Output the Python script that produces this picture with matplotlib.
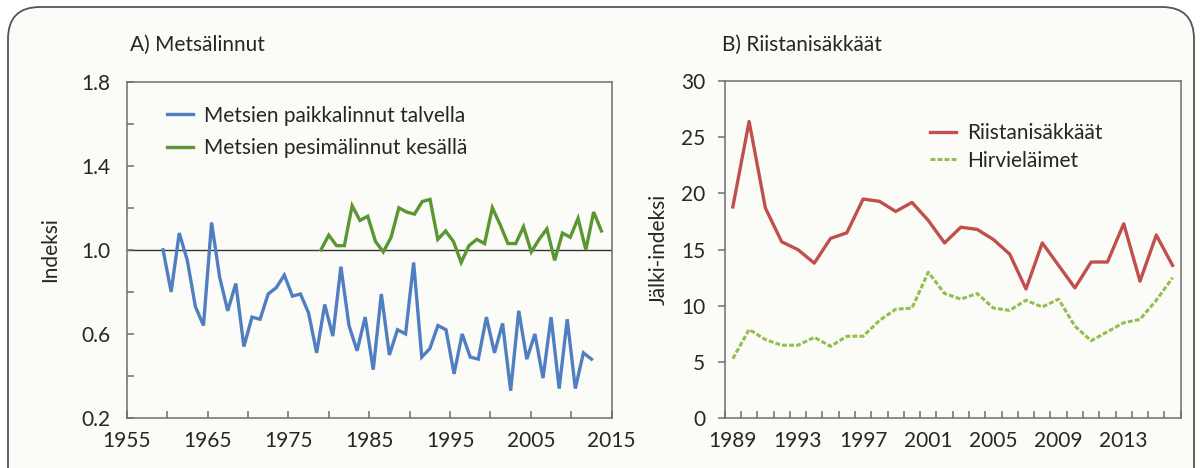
import numpy as np
import matplotlib
matplotlib.use("Agg")
import matplotlib.pyplot as plt
from matplotlib.patches import FancyBboxPatch
from matplotlib.transforms import IdentityTransform

plt.rcParams['font.family'] = ['Lato', 'DejaVu Sans']

# A) Metsälinnut
winter_years = list(range(1959, 2013))
winter_index = [1.00, 0.80, 1.08, 0.95, 0.73, 0.64, 1.13, 0.87, 0.71, 0.84,
                0.54, 0.68, 0.67, 0.79, 0.82, 0.88, 0.78, 0.79, 0.70, 0.51,
                0.74, 0.59, 0.92, 0.64, 0.52, 0.68, 0.43, 0.79, 0.50, 0.62,
                0.60, 0.94, 0.49, 0.53, 0.64, 0.62, 0.41, 0.60, 0.49, 0.48,
                0.68, 0.51, 0.65, 0.33, 0.71, 0.48, 0.60, 0.39, 0.68, 0.34,
                0.67, 0.34, 0.51, 0.48]
breeding_years = list(range(1979, 2016))
breeding_index = [1.00, 1.07, 1.02, 1.02, 1.21, 1.14, 1.16, 1.04, 0.99, 1.06,
                  1.20, 1.18, 1.17, 1.23, 1.24, 1.05, 1.09, 1.04, 0.94, 1.02,
                  1.05, 1.03, 1.20, 1.12, 1.03, 1.03, 1.11, 0.99, 1.05, 1.10,
                  0.95, 1.08, 1.06, 1.15, 1.00, 1.18, 1.09]

# B) Riistanisäkkäät
game_years = list(range(1989, 2017))
game_index = [18.8, 26.4, 18.7, 15.7, 15.0, 13.8, 16.0, 16.5, 19.5, 19.3,
              18.4, 19.2, 17.6, 15.6, 17.0, 16.8, 15.9, 14.6, 11.5, 15.6,
              13.6, 11.6, 13.9, 13.9, 17.3, 12.2, 16.3, 13.6]
deer_index = [5.3, 7.9, 7.0, 6.5, 6.5, 7.2, 6.4, 7.3, 7.3, 8.7,
              9.7, 9.8, 13.0, 11.1, 10.6, 11.1, 9.8, 9.6, 10.5, 9.9,
              10.6, 8.2, 6.9, 7.7, 8.5, 8.8, 10.5, 12.5]

TEXT = '#262626'
SPINE = '#6e6e6e'
FS = 15

fig = plt.figure(figsize=(12.02, 4.68), dpi=100)
fig.patch.set_facecolor('white')

# rounded frame around the whole figure
frame = FancyBboxPatch((8, -40), 1186, 501, boxstyle="round,pad=0,rounding_size=32",
                       transform=IdentityTransform(), facecolor='#fbfbf7',
                       edgecolor='#555555', linewidth=1.3, zorder=-10)
fig.patches.append(frame)


def style_spines(ax):
    for s in ax.spines.values():
        s.set_color(SPINE)
        s.set_linewidth(1.1)
    ax.set_facecolor('none')


# ---- left panel ----
ax1 = fig.add_axes([0.1054, 0.1068, 0.4035, 0.7186])
style_spines(ax1)
ax1.plot(winter_years, winter_index, color='#4f7fc0', lw=2.4,
         label='Metsien paikkalinnut talvella', solid_joinstyle='miter')
ax1.axhline(1.0, color='#333333', lw=1.0, zorder=1)
ax1.set_xlim(1954.5, 2014.5)
ax1.set_ylim(0.2, 1.8)
ax1.set_xticks(np.arange(1954.5, 2015, 5))
ax1.set_xticklabels([str(y) if y % 10 == 5 else '' for y in range(1955, 2016, 5)])
yt = np.arange(0.2, 1.81, 0.2)
ax1.set_yticks(yt)
ax1.set_yticklabels([f"{v:.1f}" if i % 2 == 0 else '' for i, v in enumerate(yt)])
ax1.tick_params(direction='in', length=5, width=1.1, color=SPINE,
                labelsize=FS, labelcolor=TEXT)
ax1.tick_params(axis='y', pad=12)
ax1.tick_params(axis='x', pad=9)
ax1.set_ylabel('Indeksi', fontsize=FS, color=TEXT, labelpad=15)

ax1b = ax1.twiny()
ax1b.plot(breeding_years, breeding_index, color='#5a9632', lw=2.4,
          label='Metsien pesimälinnut kesällä', solid_joinstyle='miter')
ax1b.set_xlim(1954.06, 2016.32)
ax1b.set_xticks([])
for s in ax1b.spines.values():
    s.set_visible(False)

h1, l1 = ax1.get_legend_handles_labels()
h2, l2 = ax1b.get_legend_handles_labels()
ax1.legend(h1 + h2, l1 + l2, loc='upper left', bbox_to_anchor=(0.045, 0.985),
           frameon=False, fontsize=FS, labelcolor=TEXT, handlelength=1.25,
           handletextpad=0.5, labelspacing=0.6)
fig.text(0.108, 0.905, 'A) Metsälinnut', fontsize=FS, color=TEXT, va='center')

# ---- right panel ----
ax2 = fig.add_axes([0.6029, 0.1062, 0.3794, 0.7207])
style_spines(ax2)
ax2.plot(game_years, game_index, color='#c0504d', lw=2.4, label='Riistanisäkkäät')
ax2.plot(game_years, deer_index, color='#92bf4f', lw=2.2, ls=(0, (1.6, 0.7)),
         label='Hirvieläimet')
ax2.set_xlim(1988.5, 2016.5)
ax2.set_ylim(0, 30)
ax2.set_xticks(range(1989, 2014, 4))
ax2.set_xticks(np.arange(1988.5, 2016.6, 1), minor=True)
ax2.set_yticks(range(0, 31, 5))
ax2.tick_params(axis='x', which='major', length=0, pad=9, labelsize=FS, labelcolor=TEXT)
ax2.tick_params(axis='x', which='minor', direction='in', length=5, width=1.1, color=SPINE)
ax2.tick_params(axis='y', direction='out', length=5, width=1.1, color=SPINE,
                pad=9, labelsize=FS, labelcolor=TEXT)
ax2.set_ylabel('Jälki-indeksi', fontsize=FS, color=TEXT, labelpad=9)
ax2.legend(loc='upper left', bbox_to_anchor=(0.41, 0.93), frameon=False,
           fontsize=FS, labelcolor=TEXT, handlelength=1.25, handletextpad=0.5,
           labelspacing=0.35)
fig.text(0.601, 0.905, 'B) Riistanisäkkäät', fontsize=FS, color=TEXT, va='center')

fig.savefig('out.png', dpi=100, facecolor=fig.get_facecolor())
